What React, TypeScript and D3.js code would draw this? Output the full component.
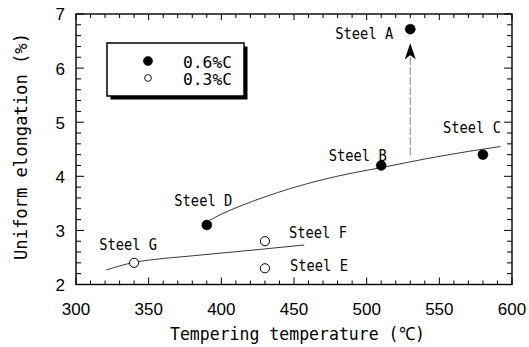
import React from "react";
import * as d3 from "d3";

// ---- data ----
const steelNames = ["Steel A", "Steel B", "Steel C", "Steel D", "Steel E", "Steel F", "Steel G"];
const steelTemps = [530, 510, 580, 390, 430, 430, 340];
const steelElong = [6.72, 4.2, 4.4, 3.1, 2.3, 2.8, 2.4];
const steelCarbon = ["0.6%C", "0.6%C", "0.6%C", "0.6%C", "0.3%C", "0.3%C", "0.3%C"];

const trendHighT = [392, 400, 413, 430, 447, 470, 490, 510, 540, 570, 592];
const trendHighY = [3.19, 3.3, 3.45, 3.62, 3.77, 3.94, 4.06, 4.16, 4.32, 4.46, 4.55];
const trendLowT = [321, 331, 340, 350, 380, 427, 457];
const trendLowY = [2.27, 2.35, 2.41, 2.45, 2.53, 2.65, 2.73];

const arrowT = 530;
const arrowFrom = 4.39;
const arrowTo = 6.46;

const legendLabels = ["0.6%C", "0.3%C"];
const xTicks = [300, 350, 400, 450, 500, 550, 600];
const yTicks = [2, 3, 4, 5, 6, 7];
const xTitle = "Tempering temperature (℃)";
const yTitle = "Uniform elongation (%)";

// label offsets (px) relative to each point, same order as steelNames
const labelDx = [-46, -23.5, -11, -3.5, 54, 53, -6];
const labelDy = [10, -4.5, -22, -19, 3, -3, -13];

const W = 529, H = 347;
const L = 76, R = 512, T = 14, B = 284.5;

export default function App() {
  const x = d3.scaleLinear().domain([300, 600]).range([L, R]);
  const y = d3.scaleLinear().domain([2, 7]).range([B, T]);

  const xMinor = d3.range(300, 601, 10);
  const yMinor = d3.range(0, 26).map((i) => 2 + i * 0.2);

  const line = d3
    .line<[number, number]>()
    .x((d) => x(d[0]))
    .y((d) => y(d[1]))
    .curve(d3.curveMonotoneX);

  const hi: [number, number][] = trendHighT.map((t, i) => [t, trendHighY[i]]);
  const lo: [number, number][] = trendLowT.map((t, i) => [t, trendLowY[i]]);

  const mono = "'DejaVu Sans Mono', monospace";
  const sans = "'Liberation Sans', Arial, sans-serif";

  const ax = x(arrowT);
  const tipY = y(arrowTo);

  return (
    <svg width={W} height={H} style={{ position: "absolute", left: 0, top: 0, background: "#fff" }}>
      <rect x={0} y={0} width={W} height={H} fill="#fff" />
      {/* ticks */}
      <g stroke="#000" strokeWidth={1}>
        {xMinor.map((v) => {
          const major = v % 50 === 0;
          const px = x(v);
          return (
            <g key={"xt" + v}>
              <line x1={px} x2={px} y1={B} y2={B - (major ? 7 : 4)} />
              <line x1={px} x2={px} y1={T} y2={T + (major ? 6 : 4)} />
            </g>
          );
        })}
        {yMinor.map((v, i) => {
          const major = i % 5 === 0;
          const py = y(v);
          return (
            <g key={"yt" + i}>
              <line x1={L} x2={L + (major ? 8 : 5)} y1={py} y2={py} />
              <line x1={R} x2={R - (major ? 8 : 5)} y1={py} y2={py} />
            </g>
          );
        })}
      </g>
      <rect x={L} y={T} width={R - L} height={B - T} fill="none" stroke="#000" strokeWidth={1.4} />

      {/* tick labels */}
      <g fontFamily={sans} fontSize={17} fill="#000">
        {xTicks.map((v) => (
          <text key={"xl" + v} x={x(v)} y={315} textAnchor="middle">
            {v}
          </text>
        ))}
        {yTicks.map((v) => (
          <text key={"yl" + v} x={65} y={y(v)} dy="0.38em" textAnchor="end">
            {v}
          </text>
        ))}
      </g>

      {/* axis titles */}
      <text x={297.5} y={340} textAnchor="middle" fontFamily={mono} fontSize={18} textLength={255} lengthAdjust="spacingAndGlyphs">
        {xTitle}
      </text>
      <text
        transform={`translate(27,146.5) rotate(-90)`}
        textAnchor="middle"
        fontFamily={mono}
        fontSize={18}
        textLength={227}
        lengthAdjust="spacingAndGlyphs"
      >
        {yTitle}
      </text>

      {/* trend lines */}
      <path d={line(hi) || ""} fill="none" stroke="#222" strokeWidth={0.9} />
      <path d={line(lo) || ""} fill="none" stroke="#222" strokeWidth={0.9} />

      {/* arrow */}
      <line x1={ax} x2={ax} y1={y(arrowFrom)} y2={tipY + 12} stroke="#555" strokeWidth={0.7} strokeDasharray="8 2" />
      <path
        d={`M${ax},${tipY} L${ax + 5.5},${tipY + 16} L${ax},${tipY + 12} L${ax - 5.5},${tipY + 16} Z`}
        fill="#000"
      />

      {/* points */}
      {steelNames.map((n, i) => {
        const filled = steelCarbon[i] === legendLabels[0];
        return (
          <circle
            key={"p" + n}
            cx={x(steelTemps[i])}
            cy={y(steelElong[i])}
            r={filled ? 5 : 4.6}
            fill={filled ? "#000" : "#fff"}
            stroke="#000"
            strokeWidth={filled ? 0.5 : 1}
          />
        );
      })}

      {/* labels */}
      <g fontFamily={mono} fontSize={15} fill="#000">
        {steelNames.map((n, i) => (
          <text
            key={"l" + n}
            x={x(steelTemps[i]) + labelDx[i]}
            y={y(steelElong[i]) + labelDy[i]}
            textAnchor="middle"
            textLength={58}
            lengthAdjust="spacingAndGlyphs"
          >
            {n}
          </text>
        ))}
      </g>

      {/* legend */}
      <rect x={110.5} y={46.5} width={137} height={53} fill="#000" />
      <rect x={107} y={43} width={137} height={53} fill="#fff" stroke="#000" strokeWidth={1.5} />
      {legendLabels.map((lab, i) => (
        <g key={"lg" + lab}>
          <circle
            cx={148}
            cy={61 + i * 17}
            r={i === 0 ? 4.6 : 3.4}
            fill={i === 0 ? "#000" : "#fff"}
            stroke="#000"
            strokeWidth={i === 0 ? 0.5 : 0.9}
          />
          <text x={183} y={68 + i * 17} fontFamily={mono} fontSize={15} textLength={49} lengthAdjust="spacingAndGlyphs">
            {lab}
          </text>
        </g>
      ))}
    </svg>
  );
}
